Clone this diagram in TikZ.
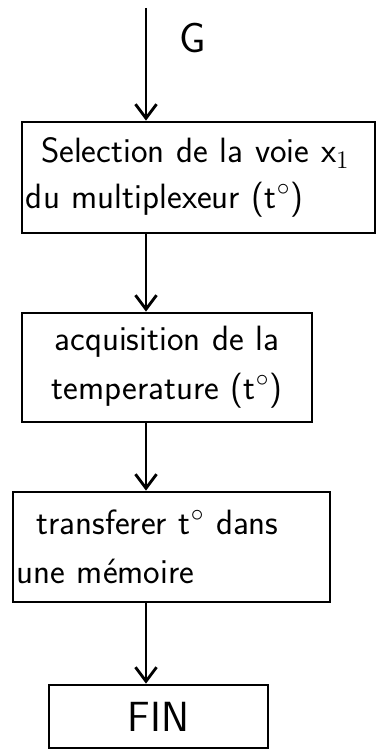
\documentclass[tikz,border=0pt]{standalone}
\usepackage{amsmath,amssymb}
\usepackage{tikz}
\usetikzlibrary{arrows.meta}
\tikzset{
  etape/.style={draw, line width=1.6pt, inner sep=0pt, font=\sffamily\fontsize{20}{28}\selectfont},
  fleche/.style={line width=1.6pt, -{Straight Barb[length=8pt,width=12pt]}}
}
\begin{document}
\begin{tikzpicture}
\useasboundingbox (0,0) rectangle (7.6,-15.02);
\coordinate (haut) at (2.92,-0.16);
\node (G) at (3.85,-0.76) {\sffamily\fontsize{24}{28}\selectfont G};
\node [etape, minimum width=7.06cm, minimum height=2.22cm, text width=6.9cm, align=left] (sel) at (3.97,-3.55)
  {\hspace{0.3cm}Selection de la voie x$_1$\\[-2pt]du multiplexeur (t$^{\circ}$)};
\node [etape, minimum width=5.8cm, minimum height=2.18cm, text width=5.5cm, align=center] (acq) at (3.34,-7.35)
  {acquisition de la\\temperature (t$^{\circ}$)};
\node [etape, minimum width=6.34cm, minimum height=2.2cm, text width=6.2cm, align=left] (trans) at (3.43,-10.94)
  {\hspace{0.4cm}transferer t$^{\circ}$ dans\\une m\'emoire};
\node [etape, minimum width=4.38cm, minimum height=1.26cm, font=\sffamily\fontsize{24}{28}\selectfont] (fin) at (3.17,-14.33) {FIN};
\draw [fleche] (haut) -- (haut |- sel.north);
\draw [fleche] (haut |- sel.south) -- (haut |- acq.north);
\draw [fleche] (haut |- acq.south) -- (haut |- trans.north);
\draw [fleche] (haut |- trans.south) -- (haut |- fin.north);
\end{tikzpicture}
\end{document}
